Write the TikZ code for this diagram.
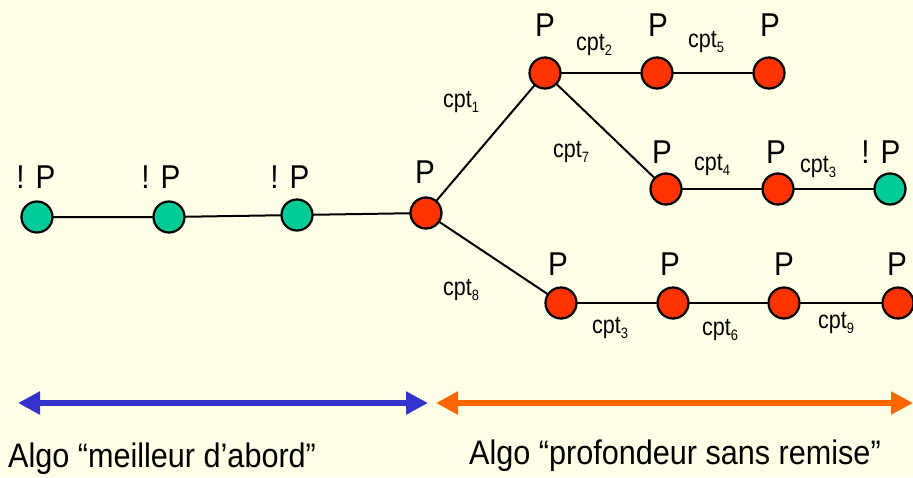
\documentclass[tikz,border=0pt]{standalone}
\usepackage{fontspec}
\setmainfont{Liberation Sans}
\usetikzlibrary{arrows.meta}
\definecolor{bgcream}{HTML}{FFFFE8}
\definecolor{nodegreen}{HTML}{00CC99}
\definecolor{nodered}{HTML}{FF3300}
\definecolor{arrowblue}{HTML}{3333CC}
\definecolor{arroworange}{HTML}{FF6600}
\newcommand\cptlab[1]{cpt\raisebox{-0.35ex}{\fontsize{15}{15}\selectfont #1}}

\begin{document}
\begin{tikzpicture}[x=1pt,y=-1pt,
  vertex/.style={circle,draw=black,line width=2.2pt,minimum size=31pt,inner sep=0pt},
  okvertex/.style={vertex,fill=nodered},
  badvertex/.style={vertex,fill=nodegreen},
  link/.style={line width=2pt},
  plab/.style={font=\fontsize{33}{36}\selectfont,xscale=0.9,inner sep=0pt},
  clab/.style={font=\fontsize{25}{27}\selectfont,xscale=0.86,inner sep=0pt},
  tlab/.style={font=\fontsize{34}{40}\selectfont,xscale=0.9,inner sep=0pt},
  rangearrow/.style={line width=6pt,{Triangle[length=22pt,width=22pt]}-{Triangle[length=22pt,width=22pt]}}
]
\fill[bgcream] (0,0) rectangle (913,477);
\useasboundingbox (0,0) rectangle (913,477);

% links first, so the vertices cover their ends
\coordinate (g1) at (37,217);
\coordinate (g2) at (169,217);
\coordinate (g3) at (297,215);
\coordinate (r0) at (426,213);
\coordinate (u1) at (545,73);
\coordinate (u2) at (657,73);
\coordinate (u3) at (769,73);
\coordinate (m1) at (666,189);
\coordinate (m2) at (778,189);
\coordinate (m3) at (890,189);
\coordinate (l1) at (561,303);
\coordinate (l2) at (673,303);
\coordinate (l3) at (784,303);
\coordinate (l4) at (898,303);

\draw[link] (g1) -- (g2) -- (g3) -- (r0);
\draw[link] (r0) -- (u1);
\draw[link] (u1) -- (u2) -- (u3);
\draw[link] (u1) -- (m1);
\draw[link] (m1) -- (m2) -- (m3);
\draw[link] (r0) -- (l1);
\draw[link] (l1) -- (l2) -- (l3) -- (l4);

% vertices: green = rejected, red = accepted
\node[badvertex] (ng1) at (g1) {};
\node[badvertex] (ng2) at (g2) {};
\node[badvertex] (ng3) at (g3) {};
\node[okvertex]  (nr0) at (r0) {};
\node[okvertex]  (nu1) at (u1) {};
\node[okvertex]  (nu2) at (u2) {};
\node[okvertex]  (nu3) at (u3) {};
\node[okvertex]  (nm1) at (m1) {};
\node[okvertex]  (nm2) at (m2) {};
\node[badvertex] (nm3) at (m3) {};
\node[okvertex]  (nl1) at (l1) {};
\node[okvertex]  (nl2) at (l2) {};
\node[okvertex]  (nl3) at (l3) {};
\node[okvertex]  (nl4) at (l4) {};

% vertex labels
\node[plab] (pg1) at (36,177) {! P};
\node[plab] (pg2) at (161,177) {! P};
\node[plab] (pg3) at (290,177) {! P};
\node[plab] (pr0) at (425,172) {P};
\node[plab] (pu1) at (545,25) {P};
\node[plab] (pu2) at (658,25) {P};
\node[plab] (pu3) at (770,25) {P};
\node[plab] (pm1) at (662,152) {P};
\node[plab] (pm2) at (776,152) {P};
\node[plab] (pm3) at (881,152) {! P};
\node[plab] (pl1) at (558,264) {P};
\node[plab] (pl2) at (670,264) {P};
\node[plab] (pl3) at (784,264) {P};
\node[plab] (pl4) at (897,264) {P};

% move labels
\node[clab] (c1) at (461,102) {\cptlab{1}};
\node[clab] (c2) at (594,45) {\cptlab{2}};
\node[clab] (c5) at (706,42) {\cptlab{5}};
\node[clab] (c7) at (571,152) {\cptlab{7}};
\node[clab] (c4) at (712,165) {\cptlab{4}};
\node[clab] (c3a) at (818,167) {\cptlab{3}};
\node[clab] (c8) at (461,290) {\cptlab{8}};
\node[clab] (c3b) at (610,328) {\cptlab{3}};
\node[clab] (c6) at (720,330) {\cptlab{6}};
\node[clab] (c9) at (836,323) {\cptlab{9}};

% algorithm ranges
\coordinate (a1) at (18,403);
\coordinate (a2) at (428,403);
\coordinate (b1) at (436,403);
\coordinate (b2) at (913,403);
\draw[rangearrow,arrowblue] (a1) -- (a2);
\draw[rangearrow,arroworange] (b1) -- (b2);
\node[tlab,anchor=west] (t1) at (8,459) {Algo “meilleur d’abord”};
\node[tlab,anchor=west] (t2) at (469,456) {Algo “profondeur sans remise”};
\end{tikzpicture}
\end{document}
